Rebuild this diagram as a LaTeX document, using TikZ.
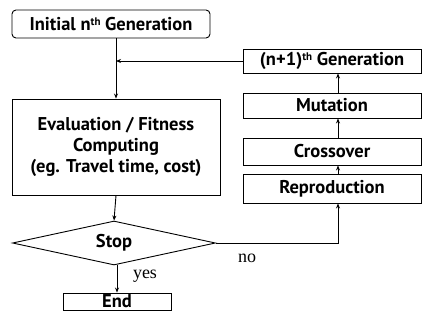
\documentclass[tikz,border=0pt]{standalone}
\usepackage{fontspec}
\setmainfont{PT Sans}
\newfontfamily\serifl{Liberation Serif}
\usetikzlibrary{shapes.geometric,arrows.meta}
\newcommand{\supth}[1]{\raisebox{0.55ex}{\fontsize{11}{11}\selectfont #1}}
\begin{document}
\begin{tikzpicture}[x=1pt,y=-1pt,
  box/.style={draw,line width=0.9pt,inner sep=0pt,align=center,font=\fontsize{18.5}{21}\selectfont\bfseries},
  arr/.style={line width=0.9pt,-{Stealth[length=5pt,width=4pt]}},
  lbl/.style={font=\fontsize{18}{18}\selectfont\serifl}]
\useasboundingbox (0,0) rectangle (433,321);
\node[box,rounded corners=4pt,minimum width=198pt,minimum height=28pt] (init) at (111,24) {Initial n\supth{th} Generation};
\node[box,minimum width=208pt,minimum height=96pt] (eval) at (116,147) {Evaluation / Fitness\\Computing\\(eg. Travel time, cost)};
\node[box,diamond,aspect=4.6,minimum width=203pt,minimum height=44pt] (stop) at (114,243) {Stop};
\node[box,minimum width=108pt,minimum height=17pt] (end) at (117,301.5) {End};
\node[box,minimum width=178pt,minimum height=24pt] (next) at (332,61) {(n+1)\supth{th} Generation};
\node[box,minimum width=178pt,minimum height=25pt] (mut) at (332,105.5) {Mutation};
\node[box,minimum width=178pt,minimum height=27pt] (cross) at (332,151.5) {Crossover};
\node[box,minimum width=178pt,minimum height=29pt] (rep) at (332,188.5) {Reproduction};
\coordinate (j) at (eval.north |- next.west);
\coordinate (k) at ([xshift=6pt]rep.south |- stop.east);
\draw[arr] (init.south -| eval.north) -- (eval.north);
\draw[arr] (next.west) -- (j);
\draw[arr] (eval.south) -- (stop.north);
\draw[arr] (stop.south -| end.north) -- (end.north);
\draw[arr] (stop.east) -- (k) -- ([xshift=6pt]rep.south);
\draw[arr] ([xshift=6pt]rep.north) -- ([xshift=6pt]cross.south);
\draw[arr] ([xshift=6pt]cross.north) -- ([xshift=6pt]mut.south);
\draw[arr] ([xshift=6pt]mut.north) -- ([xshift=6pt]next.south);
\node[lbl] (no) at (247,258) {no};
\node[lbl] (yes) at (145,276) {yes};
\end{tikzpicture}
\end{document}
